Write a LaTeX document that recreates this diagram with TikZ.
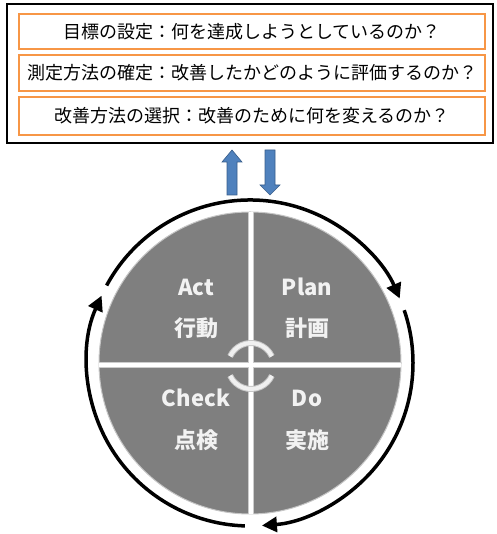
\documentclass[tikz,border=0pt]{standalone}
\usepackage{fontspec}
\setmainfont{Noto Sans CJK JP}
\usetikzlibrary{arrows.meta}
\definecolor{orng}{HTML}{F79646}
\definecolor{blu}{HTML}{4F81BD}
\definecolor{bluedge}{HTML}{385D8A}
\definecolor{diskc}{HTML}{7F7F7F}
\begin{document}
\begin{tikzpicture}[x=1pt,y=1pt,
  qbox/.style={draw=orng, line width=1.6pt, minimum width=466pt, inner sep=0pt, font=\fontsize{18}{20}\selectfont},
  quadtxt/.style={text=gray!10, font=\fontsize{22}{26}\selectfont\bfseries},
  ring/.style={line width=3.5pt, -{Triangle[length=15pt,width=15pt]}},
  blockarrow/.style={fill=blu, draw=bluedge, line width=0.6pt}
]
\useasboundingbox (0,0) rectangle (496,534);
% frame
\node[draw=black, line width=1.5pt, minimum width=486pt, minimum height=139pt, inner sep=0pt] (frame) at (250,460.5) {};
\node[qbox, minimum height=35pt] (goal) at (252,502.5) {目標の設定：何を達成しようとしているのか？};
\node[qbox, minimum height=36pt] (measure) at (252,461) {測定方法の確定：改善したかどのように評価するのか？};
\node[qbox, minimum height=38pt] (method) at (252,418) {改善方法の選択：改善のために何を変えるのか？};
% block arrows
\fill[blockarrow] (227,339) -- (237,339) -- (237,372) -- (242,372) -- (232,384) -- (222,372) -- (227,372) -- cycle;
\fill[blockarrow] (265,384) -- (275,384) -- (275,349) -- (280,349) -- (270,339) -- (260,349) -- (265,349) -- cycle;
% disk
\coordinate (c) at (250,171);
\fill[diskc] (c) circle (151);
\draw[gray!45, line width=1pt] (c) circle (151);
\begin{scope}
\clip (c) circle (151);
\draw[gray!40, line width=6.5pt] (251,0) -- (251,340);
\draw[gray!40, line width=6.5pt] (80,169) -- (420,169);
\draw[white, line width=4pt] (251,0) -- (251,340);
\draw[white, line width=4pt] (80,169) -- (420,169);
\end{scope}
% center arcs
\coordinate (m) at (251,168);
\draw[gray!45, line width=6pt] (m) ++(25:23) arc[start angle=25, end angle=155, radius=23];
\draw[gray!45, line width=6pt] (m) ++(205:23) arc[start angle=205, end angle=335, radius=23];
\draw[gray!12, line width=4pt] (m) ++(25:23) arc[start angle=25, end angle=155, radius=23];
\draw[gray!12, line width=4pt] (m) ++(205:23) arc[start angle=205, end angle=335, radius=23];
% quadrant texts
\node[quadtxt] (act) at (196,247) {Act};
\node[quadtxt] (actj) at (196,206) {行動};
\node[quadtxt] (plan) at (307,247) {Plan};
\node[quadtxt] (planj) at (307,206) {計画};
\node[quadtxt] (check) at (196,136) {Check};
\node[quadtxt] (checkj) at (196,94) {点検};
\node[quadtxt] (do) at (307,136) {Do};
\node[quadtxt] (doj) at (307,94) {実施};
% ring arrows
\draw[ring] (c) ++(151.6:163) arc[start angle=151.6, end angle=23.3, radius=163];
\draw[ring] (c) ++(18.9:163) arc[start angle=18.9, end angle=-85.8, radius=163];
\draw[ring] (c) ++(-91.8:163) arc[start angle=-91.8, end angle=-204.4, radius=163];
\end{tikzpicture}
\end{document}
